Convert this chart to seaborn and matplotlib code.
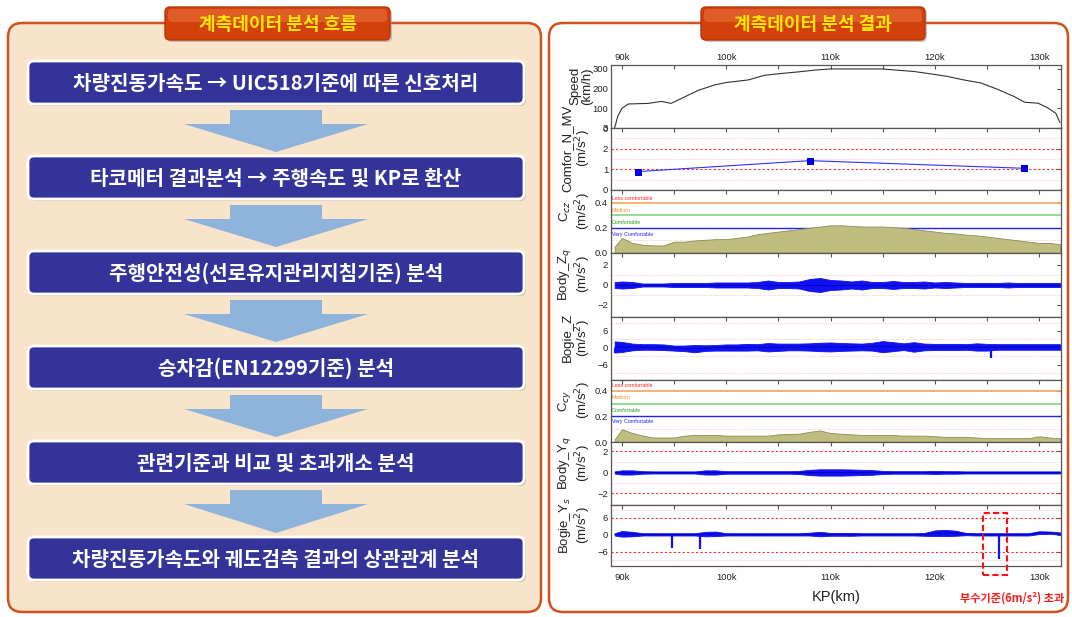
import numpy as np
import pandas as pd
import matplotlib
matplotlib.use("Agg")
import matplotlib.pyplot as plt
import seaborn as sns
from matplotlib.patches import FancyBboxPatch, Polygon, Rectangle
from matplotlib.ticker import FixedLocator, FuncFormatter

# ---------------- data ----------------
left_title = "계측데이터 분석 흐름"
right_title = "계측데이터 분석 결과"
flow_steps = [
    "차량진동가속도 → UIC518기준에 따른 신호처리",
    "타코메터 결과분석 → 주행속도 및 KP로 환산",
    "주행안전성(선로유지관리지침기준) 분석",
    "승차감(EN12299기준) 분석",
    "관련기준과 비교 및 초과개소 분석",
    "차량진동가속도와 궤도검측 결과의 상관관계 분석",
]

x_ticks_k = [90, 100, 110, 120, 130]

speed_kp = [89.3, 89.6, 90.0, 90.6, 92.5, 93.8, 94.7, 95.7, 97.3, 98.9, 100.0, 102.1, 103.7,
            105.3, 106.9, 108.5, 110.0, 114.9, 118.0, 120.0, 121.2, 122.8, 124.4, 126.0,
            127.6, 128.6, 129.9, 130.8, 131.6, 132.0]
speed_val = [0, 60, 100, 122, 125, 135, 125, 150, 191, 219, 231, 244, 268,
             277, 285, 294, 300, 300, 287, 272, 262, 244, 229, 197,
             160, 131, 126, 103, 75, 28]

comfort_kp = [91.5, 108.0, 128.6]
comfort_val = [0.89, 1.42, 1.05]

env_kp = [89.3] + list(range(90, 133))
ccz_val = [0.05, 0.12, 0.08, 0.065, 0.06, 0.06, 0.09, 0.09, 0.10, 0.105, 0.11, 0.11, 0.12,
           0.13, 0.15, 0.16, 0.17, 0.18, 0.19, 0.20, 0.21, 0.22, 0.22, 0.215, 0.21, 0.21,
           0.21, 0.205, 0.20, 0.19, 0.18, 0.17, 0.16, 0.155, 0.145, 0.14, 0.13, 0.12,
           0.11, 0.10, 0.09, 0.08, 0.08, 0.07]
ccy_val = [0.02, 0.10, 0.07, 0.05, 0.035, 0.035, 0.035, 0.05, 0.055, 0.055, 0.055, 0.05, 0.05,
           0.05, 0.05, 0.05, 0.06, 0.063, 0.065, 0.08, 0.09, 0.07, 0.065, 0.06, 0.055, 0.055,
           0.055, 0.055, 0.05, 0.05, 0.05, 0.045, 0.04, 0.04, 0.04, 0.035, 0.03, 0.03,
           0.03, 0.03, 0.03, 0.045, 0.035, 0.03]
body_zq_amp = [0.30, 0.35, 0.30, 0.15, 0.15, 0.15, 0.20, 0.20, 0.20, 0.20, 0.25, 0.25, 0.25,
               0.25, 0.30, 0.45, 0.30, 0.30, 0.35, 0.60, 0.70, 0.50, 0.45, 0.35, 0.45, 0.30,
               0.30, 0.40, 0.30, 0.30, 0.35, 0.25, 0.30, 0.25, 0.20, 0.20, 0.20, 0.20,
               0.25, 0.20, 0.20, 0.20, 0.20, 0.20]
bogie_z_ctr = [0.3, 0.3, 0.3, 0.3, 0.3, 0.2, -0.1, -0.2, -0.3, -0.1, 0.0, 0.1, 0.1,
               0.2, 0.2, 0.2, 0.2, 0.3, 0.3, 0.3, 0.3, 0.3, 0.3, 0.3, 0.3, 0.4,
               0.4, 0.4, 0.4, 0.3, 0.3, 0.3, 0.3, 0.3, 0.3, 0.3, 0.2, 0.3,
               0.3, 0.3, 0.3, 0.3, 0.3, 0.3]
bogie_z_amp = [2.0, 1.8, 1.2, 1.0, 1.0, 1.0, 0.9, 1.0, 1.3, 1.0, 1.0, 1.1, 1.1,
               1.2, 1.1, 1.5, 1.3, 1.2, 1.2, 1.3, 1.5, 1.6, 1.4, 1.3, 1.2, 1.4,
               2.0, 1.6, 1.2, 1.7, 1.2, 1.1, 1.1, 1.1, 1.0, 1.3, 1.2, 1.0,
               1.0, 1.0, 1.0, 1.0, 1.0, 1.0]
body_yq_amp = [0.10, 0.20, 0.20, 0.12, 0.10, 0.10, 0.10, 0.10, 0.10, 0.20, 0.20, 0.12, 0.12,
               0.12, 0.12, 0.12, 0.12, 0.12, 0.15, 0.25, 0.30, 0.30, 0.30, 0.28, 0.25, 0.22,
               0.15, 0.12, 0.12, 0.12, 0.12, 0.15, 0.12, 0.12, 0.10, 0.10, 0.10, 0.10,
               0.10, 0.10, 0.10, 0.10, 0.10, 0.10]
bogie_ys_ctr = [0.2, 0.4, 0.3, 0.2, 0.2, 0.2, 0.2, 0.2, 0.2, 0.3, 0.4, 0.2, 0.2,
                0.2, 0.2, 0.2, 0.2, 0.2, 0.2, 0.3, 0.3, 0.2, 0.2, 0.2, 0.2, 0.2,
                0.2, 0.2, 0.2, 0.2, 0.2, 0.6, 0.7, 0.6, 0.3, 0.2, 0.2, 0.2,
                0.2, 0.2, 0.2, 0.8, 0.8, 0.5]
bogie_ys_amp = [0.4, 1.0, 0.8, 0.4, 0.4, 0.4, 0.4, 0.4, 0.4, 0.8, 0.8, 0.4, 0.4,
                0.4, 0.4, 0.4, 0.4, 0.4, 0.4, 0.5, 0.8, 0.5, 0.5, 0.5, 0.4, 0.4,
                0.4, 0.4, 0.4, 0.4, 0.5, 1.0, 1.1, 0.9, 0.4, 0.4, 0.4, 0.4,
                0.4, 0.4, 0.4, 0.5, 0.4, 0.4]
bogie_z_spike_kp = [89.35, 125.4]
bogie_z_spike_val = [-2.0, -3.5]
bogie_ys_spike_kp = [94.8, 97.5, 126.2]
bogie_ys_spike_val = [-4.5, -5.0, -8.5]

# ---------------- style ----------------
sns.set_theme(style="white")
plt.rcParams["font.family"] = ["Liberation Sans", "Noto Sans CJK KR", "DejaVu Sans"]
KR = ["Noto Sans CJK KR", "DejaVu Sans"]

W, H = 1072, 617
fig = plt.figure(figsize=(W / 100, H / 100), dpi=100)

bg = fig.add_axes([0, 0, 1, 1], zorder=0)
bg.set_xlim(0, W)
bg.set_ylim(H, 0)
bg.axis("off")

ORANGE = "#D0501E"

# left panel
bg.add_patch(FancyBboxPatch((8, 23), 533, 589, boxstyle="round,pad=0,rounding_size=14",
                            fc="#F8E4CB", ec=ORANGE, lw=1.8))
# right panel
bg.add_patch(FancyBboxPatch((549, 23), 519, 589, boxstyle="round,pad=0,rounding_size=14",
                            fc="white", ec=ORANGE, lw=1.8))


def title_tab(x0, x1, text):
    bg.add_patch(FancyBboxPatch((x0 + 2, 9), x1 - x0, 33, boxstyle="round,pad=0,rounding_size=5",
                                fc="#9a8f86", ec="none", alpha=0.5))
    bg.add_patch(FancyBboxPatch((x0, 7), x1 - x0, 33, boxstyle="round,pad=0,rounding_size=5",
                                fc="#D2400C", ec="#B8350A", lw=1))
    bg.add_patch(FancyBboxPatch((x0 + 3, 9), x1 - x0 - 6, 13, boxstyle="round,pad=0,rounding_size=4",
                                fc="#E8703A", ec="none", alpha=0.6))
    bg.text((x0 + x1) / 2, 24, text, ha="center", va="center", color="#FFE800",
            fontsize=13, fontweight="bold", family=KR)


title_tab(165, 390, left_title)
title_tab(701, 925, right_title)

box_tops = [61, 156, 251, 346, 441, 537]
box_h = 43
for i, (top, txt) in enumerate(zip(box_tops, flow_steps)):
    bg.add_patch(FancyBboxPatch((30, top + 2), 496, box_h, boxstyle="round,pad=0,rounding_size=6",
                                fc="#b9aa98", ec="none", alpha=0.6))
    bg.add_patch(FancyBboxPatch((28, top), 496, box_h, boxstyle="round,pad=0,rounding_size=6",
                                fc="#33339A", ec="white", lw=2))
    bg.text(276, top + box_h / 2 + 1, txt, ha="center", va="center", color="white",
            fontsize=14.5, fontweight="bold", family=KR)
    if i < len(box_tops) - 1:
        y0 = top + box_h + 6
        y1 = box_tops[i + 1] - 4
        yb = y0 + 14
        arrow = [(230, y0), (322, y0), (322, yb), (368, yb), (276, y1), (184, yb), (230, yb)]
        bg.add_patch(Polygon(arrow, closed=True, fc="#8FB4DC", ec="none"))

# ---------------- chart panels ----------------
tops = [65, 128, 190, 253, 317, 380, 442, 505, 566]
L, R = 611, 1061
axes = []
for i in range(8):
    t, b = tops[i], tops[i + 1]
    ax = fig.add_axes([L / W, 1 - b / H, (R - L) / W, (b - t) / H], zorder=2)
    ax.set_facecolor("white")
    axes.append(ax)

XLIM = (88.95, 132.1)
BLUE = "#1010F0"
LIGHTRED = "#F7B0B0"
RED = "#F03030"


def hl(ax, y, color, lw=0.7, ls="-"):
    ax.axhline(y, color=color, lw=lw, ls=ls, zorder=1)


# 1 speed
ax = axes[0]
df_speed = pd.DataFrame({"kp": speed_kp, "speed": speed_val})
sns.lineplot(data=df_speed, x="kp", y="speed", ax=ax, color="#333333", lw=0.8)
ax.set_ylim(0, 320)
ax.set_yticks([0, 100, 200, 300])

# 2 comfort
ax = axes[1]
for y in [0.5, 1.5, 2.5]:
    hl(ax, y, LIGHTRED, 0.6, ":")
for y in [1, 2]:
    hl(ax, y, RED, 0.8, (0, (2, 2)))
df_c = pd.DataFrame({"kp": comfort_kp, "v": comfort_val})
sns.lineplot(data=df_c, x="kp", y="v", ax=ax, color="#3030FF", lw=0.8, marker="s",
             markersize=4, markeredgecolor="#0000CC", markerfacecolor="#0000EE")
ax.set_ylim(0, 3)
ax.set_yticks([0, 1, 2, 3])


def comfort_panel(ax, vals, top, label_ys):
    hl(ax, 0.1, LIGHTRED, 0.6, ":")
    ax.fill_between(env_kp, 0, vals, color="#BFBD7F", lw=0.6, ec="#8E8B55", zorder=2)
    hl(ax, 0.4, "#F6A35E", 1.2)
    hl(ax, 0.3, "#90DE90", 1.4)
    hl(ax, 0.2, "#2222EE", 1.0)
    names = ["Less comfortable", "Medium", "Comfortable", "Very Comfortable"]
    cols = ["#FF2020", "#F08A20", "#20A020", "#2020FF"]
    for n, c, y in zip(names, cols, label_ys):
        ax.text(89.0, y, n, color=c, fontsize=3.8, va="center", ha="left", zorder=3)
    ax.set_ylim(0, top)
    ax.set_yticks([0.0, 0.2, 0.4])
    ax.yaxis.set_major_formatter(FuncFormatter(lambda v, p: f"{v:.1f}"))


comfort_panel(axes[2], ccz_val, 0.5, [0.43, 0.34, 0.24, 0.15])
comfort_panel(axes[5], ccy_val, 0.485, [0.44, 0.345, 0.25, 0.16])


def band(ax, ctr, amp):
    ctr = np.asarray(ctr, float)
    amp = np.asarray(amp, float)
    ax.fill_between(env_kp, ctr - amp, ctr + amp, color=BLUE, lw=0.6, ec=BLUE, zorder=2)
    sns.lineplot(x=env_kp, y=ctr, ax=ax, color="#0000C0", lw=0.6, zorder=3)


# 4 body Zq
ax = axes[3]
for y in [1, -1]:
    hl(ax, y, LIGHTRED, 0.6, ":")
band(ax, np.zeros(len(env_kp)), body_zq_amp)
ax.set_ylim(-3.2, 3.2)
ax.set_yticks([-2, 0, 2])

# 5 bogie Z
ax = axes[4]
for y in [9, 3, -3, -9]:
    hl(ax, y, LIGHTRED, 0.6, ":")
band(ax, bogie_z_ctr, bogie_z_amp)
ax.vlines(bogie_z_spike_kp, 0, bogie_z_spike_val, color=BLUE, lw=1.6, zorder=3)
ax.set_ylim(-11.5, 11)
ax.set_yticks([-6, 0, 6])

# 7 body Yq
ax = axes[6]
for y in [1, -1]:
    hl(ax, y, LIGHTRED, 0.6, ":")
for y in [2, -2]:
    hl(ax, y, RED, 0.8, (0, (2, 2)))
band(ax, np.zeros(len(env_kp)), body_yq_amp)
ax.set_ylim(-3.1, 2.9)
ax.set_yticks([-2, 0, 2])

# 8 bogie Ys
ax = axes[7]
for y in [9, -9]:
    hl(ax, y, LIGHTRED, 0.6, ":")
for y in [6, -6]:
    hl(ax, y, RED, 0.8, (0, (2, 2)))
band(ax, bogie_ys_ctr, bogie_ys_amp)
ax.vlines(bogie_ys_spike_kp, 0, bogie_ys_spike_val, color=BLUE, lw=1.6, zorder=3)
ax.set_ylim(-11, 10.6)
ax.set_yticks([-6, 0, 6])
ax.add_patch(Rectangle((124.6, -14.2), 2.3, 22.0, fill=False, ec="#FF1010", lw=1.5,
                       ls=(0, (3, 1.5)), clip_on=False, zorder=5))

ylabels = ["Speed\n(km/h)", "Comfor_N_MV\n(m/s$^2$)", "C$_{cz}$\n(m/s$^2$)",
           "Body_Z$_q$\n(m/s$^2$)", "Bogie_Z\n(m/s$^2$)", "C$_{cy}$\n(m/s$^2$)",
           "Body_Y$_q$\n(m/s$^2$)", "Bogie_Y$_s$\n(m/s$^2$)"]

for i, ax in enumerate(axes):
    ax.set_xlim(*XLIM)
    ax.xaxis.set_major_locator(FixedLocator(x_ticks_k))
    ax.xaxis.set_minor_locator(FixedLocator([95, 105, 115, 125]))
    ax.xaxis.set_major_formatter(FuncFormatter(lambda v, p: f"{int(v)}k"))
    ax.tick_params(axis="both", which="both", direction="in", colors="#555555",
                   labelcolor="#222222", length=3, width=0.8, top=True, right=True,
                   labelsize=6.8, pad=2)
    ax.tick_params(axis="x", labelbottom=False, labeltop=False)
    ax.set_xlabel("")
    ax.set_ylabel(ylabels[i], fontsize=9.5, linespacing=1.0, color="#222222")
    ax.yaxis.set_label_coords(-0.04, 0.67)
    for s in ax.spines.values():
        s.set_color("#555555")
        s.set_linewidth(0.9)

axes[0].tick_params(axis="x", labeltop=True, labelsize=6.8)
axes[7].tick_params(axis="x", labelbottom=True, labelsize=6.8, pad=5)
axes[7].set_xlabel("KP(km)", fontsize=10.5, color="#222222", labelpad=6)

fig.text(1012 / W, 1 - 598 / H, "부수기준(6m/s²) 초과", color="#FF1A1A", fontsize=8,
         fontweight="bold", ha="center", va="center", family=KR)

fig.savefig("out.png", dpi=100)
